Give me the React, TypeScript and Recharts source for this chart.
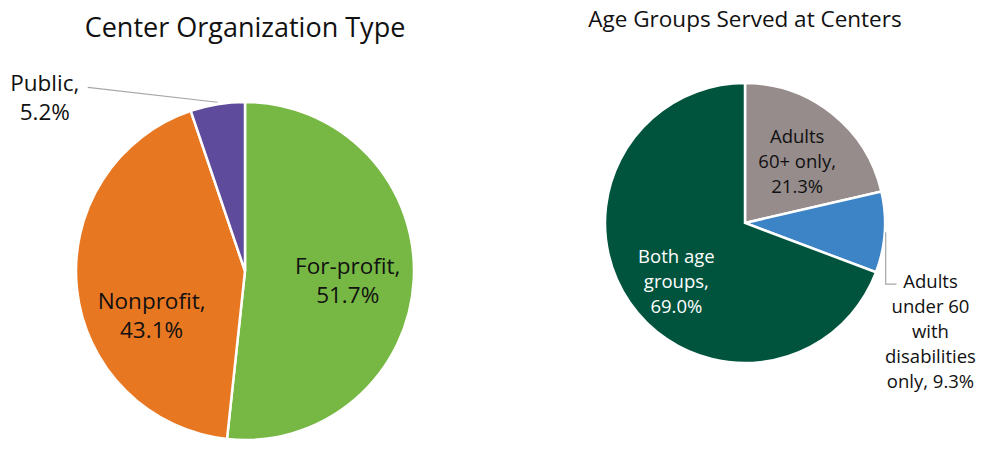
import React from 'react';
import { PieChart, Pie, Cell } from 'recharts';

// Center Organization Type
const orgTypes = ['For-profit', 'Nonprofit', 'Public'];
const orgShares = [51.7, 43.1, 5.2];
const orgColors = ['#76B843', '#E87722', '#5F4B9B'];
const orgLabelLines = [
  ['For-profit,', '51.7%'],
  ['Nonprofit,', '43.1%'],
  ['Public,', '5.2%'],
];

// Age Groups Served at Centers
const ageGroups = ['Adults 60+ only', 'Adults under 60 with disabilities only', 'Both age groups'];
const ageShares = [21.3, 9.3, 69.0];
const ageColors = ['#968C8B', '#3D84C6', '#00543D'];
const ageLabelLines = [
  ['Adults', '60+ only,', '21.3%'],
  ['Adults', 'under 60', 'with', 'disabilities', 'only, 9.3%'],
  ['Both age', 'groups,', '69.0%'],
];
const ageLabelColors = ['#111', '#111', '#fff'];

const FONT = '"Open Sans", "Noto Sans", sans-serif';
const RAD = Math.PI / 180;

type LabelSpot = { angle: number; radius: number; leader?: 'straight' | 'elbow' };

const orgLabelSpots: LabelSpot[] = [
  { angle: -5, radius: 0.61 },
  { angle: -155, radius: 0.61 },
  { angle: 139, radius: 1.57, leader: 'straight' },
];

const ageLabelSpots: LabelSpot[] = [
  { angle: 50, radius: 0.58 },
  { angle: -30, radius: 1.53, leader: 'elbow' },
  { angle: -140, radius: 0.64 },
];

const orgData = orgTypes.map((name, i) => ({ name, value: orgShares[i] }));
const ageData = ageGroups.map((name, i) => ({ name, value: ageShares[i] }));

const makeLabel = (
  lines: string[][],
  spots: LabelSpot[],
  colors: string[],
  fontSize: number,
  lineHeight: number
) =>
  (props: any) => {
    const { cx, cy, midAngle, outerRadius, index } = props;
    const spot = spots[index];
    const r = outerRadius * spot.radius;
    const x = cx + r * Math.cos(spot.angle * RAD);
    const y = cy - r * Math.sin(spot.angle * RAD);
    const text = lines[index];
    const top = y - ((text.length - 1) * lineHeight) / 2;
    const ex = cx + outerRadius * Math.cos(midAngle * RAD);
    const ey = cy - outerRadius * Math.sin(midAngle * RAD);
    let leader = null;
    if (spot.leader === 'straight') {
      leader = <line x1={x + 43} y1={top + 5} x2={ex} y2={ey - 2} stroke="#A6A6A6" strokeWidth={1.2} />;
    } else if (spot.leader === 'elbow') {
      const ly = top + 4;
      leader = (
        <polyline
          points={`${ex + 1},${ey} ${ex + 1},${ly} ${x - 34},${ly}`}
          fill="none"
          stroke="#A6A6A6"
          strokeWidth={1.2}
        />
      );
    }
    return (
      <g key={`lbl-${index}`}>
        {leader}
        <text
          x={x}
          y={top}
          textAnchor="middle"
          fill={colors[index]}
          fontSize={fontSize}
          fontFamily={FONT}
        >
          {text.map((t, i) => (
            <tspan key={i} x={x} y={top + i * lineHeight} dominantBaseline="central">
              {t}
            </tspan>
          ))}
        </text>
      </g>
    );
  };

const App: React.FC = () => {
  return (
    <div style={{ position: 'absolute', left: 0, top: 0, width: 990, height: 453, background: '#fff' }}>
      <div
        style={{
          position: 'absolute',
          left: 45,
          width: 400,
          top: 8,
          textAlign: 'center',
          fontFamily: FONT,
          fontSize: 27,
          color: '#111',
        }}
      >
        Center Organization Type
      </div>
      <div
        style={{
          position: 'absolute',
          left: 545,
          width: 400,
          top: 3,
          textAlign: 'center',
          fontFamily: FONT,
          fontSize: 22.5,
          color: '#111',
        }}
      >
        Age Groups Served at Centers
      </div>
      <div style={{ position: 'absolute', left: 0, top: 0 }}>
        <PieChart width={990} height={453} margin={{ top: 0, right: 0, bottom: 0, left: 0 }}>
          <Pie
            data={orgData}
            dataKey="value"
            nameKey="name"
            cx={245}
            cy={271}
            outerRadius={169}
            startAngle={90}
            endAngle={-270}
            stroke="#fff"
            strokeWidth={2.5}
            labelLine={false}
            label={makeLabel(orgLabelLines, orgLabelSpots, ['#111', '#111', '#111'], 22.5, 29)}
            isAnimationActive={false}
          >
            {orgData.map((d, i) => (
              <Cell key={d.name} fill={orgColors[i]} />
            ))}
          </Pie>
          <Pie
            data={ageData}
            dataKey="value"
            nameKey="name"
            cx={745}
            cy={223}
            outerRadius={140}
            startAngle={90}
            endAngle={-270}
            stroke="#fff"
            strokeWidth={2.5}
            labelLine={false}
            label={makeLabel(ageLabelLines, ageLabelSpots, ageLabelColors, 18.5, 25)}
            isAnimationActive={false}
          >
            {ageData.map((d, i) => (
              <Cell key={d.name} fill={ageColors[i]} />
            ))}
          </Pie>
        </PieChart>
      </div>
    </div>
  );
};

export default App;
